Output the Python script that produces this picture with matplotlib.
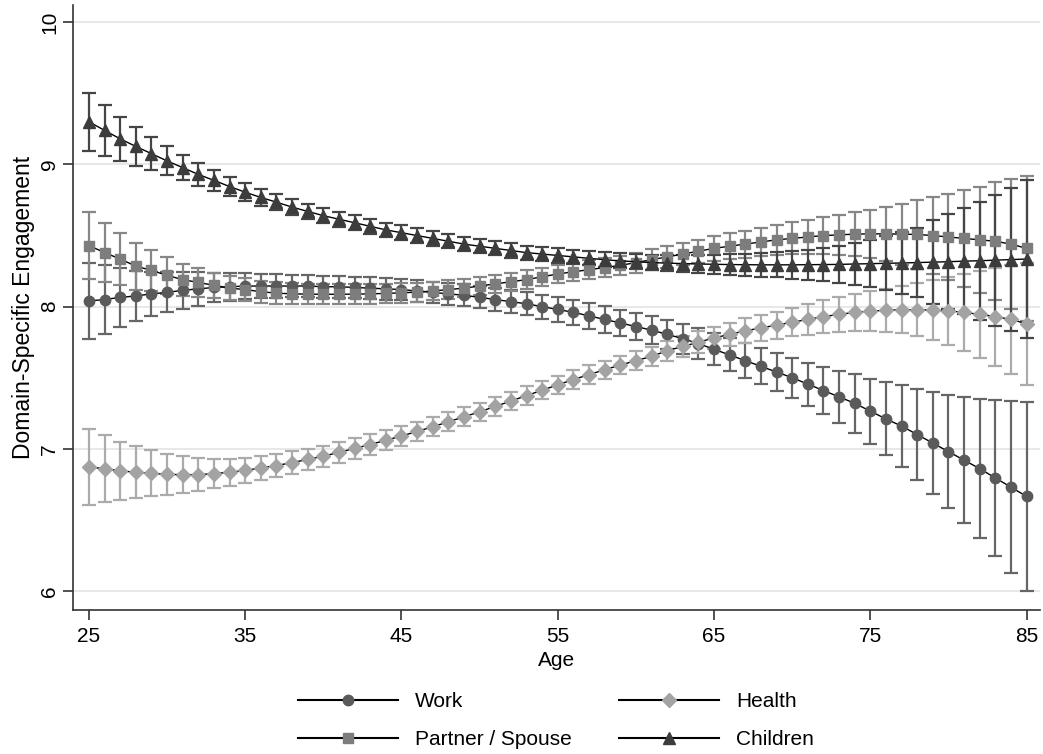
import matplotlib.pyplot as plt
from matplotlib.lines import Line2D

# ages 25..85, one point per year
ages = list(range(25, 86))

work_mean = [8.04, 8.05, 8.065, 8.075, 8.09, 8.10, 8.115, 8.125, 8.135, 8.14,
             8.145, 8.145, 8.145, 8.145, 8.145, 8.14, 8.14, 8.135, 8.13, 8.125,
             8.12, 8.11, 8.10, 8.09, 8.08, 8.065, 8.05, 8.035, 8.02, 8.00,
             7.98, 7.96, 7.935, 7.91, 7.885, 7.86, 7.835, 7.805, 7.775, 7.74,
             7.70, 7.66, 7.62, 7.58, 7.54, 7.50, 7.455, 7.41, 7.365, 7.32,
             7.265, 7.21, 7.16, 7.10, 7.04, 6.98, 6.92, 6.86, 6.795, 6.73,
             6.665]
work_err = [0.27, 0.24, 0.205, 0.178, 0.157, 0.141, 0.13, 0.118, 0.105, 0.097,
            0.09, 0.085, 0.082, 0.08, 0.078, 0.077, 0.076, 0.075, 0.075, 0.075,
            0.075, 0.075, 0.076, 0.077, 0.077, 0.078, 0.079, 0.08, 0.082, 0.084,
            0.086, 0.088, 0.09, 0.092, 0.094, 0.096, 0.099, 0.102, 0.105, 0.108,
            0.112, 0.116, 0.121, 0.127, 0.134, 0.142, 0.152, 0.165, 0.185, 0.208,
            0.229, 0.257, 0.288, 0.322, 0.356, 0.40, 0.442, 0.49, 0.547, 0.605,
            0.667]

health_mean = [6.873, 6.859, 6.845, 6.835, 6.827, 6.82, 6.818, 6.818, 6.825, 6.835,
               6.848, 6.865, 6.882, 6.903, 6.925, 6.948, 6.975, 7.003, 7.03, 7.06,
               7.09, 7.122, 7.155, 7.19, 7.225, 7.26, 7.298, 7.336, 7.374, 7.412,
               7.45, 7.487, 7.522, 7.556, 7.589, 7.62, 7.65, 7.69, 7.72, 7.75,
               7.78, 7.805, 7.83, 7.85, 7.87, 7.89, 7.91, 7.93, 7.945, 7.96,
               7.968, 7.975, 7.978, 7.978, 7.975, 7.97, 7.96, 7.945, 7.93, 7.91,
               7.88]
health_err = [0.268, 0.235, 0.206, 0.182, 0.161, 0.145, 0.128, 0.115, 0.103, 0.095,
              0.088, 0.083, 0.08, 0.078, 0.076, 0.075, 0.073, 0.072, 0.072, 0.071,
              0.07, 0.069, 0.068, 0.067, 0.066, 0.065, 0.065, 0.065, 0.065, 0.065,
              0.065, 0.065, 0.065, 0.065, 0.066, 0.067, 0.069, 0.071, 0.074, 0.077,
              0.08, 0.083, 0.087, 0.091, 0.095, 0.10, 0.107, 0.114, 0.122, 0.13,
              0.14, 0.15, 0.165, 0.185, 0.21, 0.24, 0.27, 0.305, 0.345, 0.385,
              0.43]

partner_mean = [8.43, 8.38, 8.335, 8.285, 8.255, 8.22, 8.19, 8.17, 8.15, 8.13,
                8.12, 8.105, 8.095, 8.09, 8.088, 8.087, 8.087, 8.088, 8.09, 8.093,
                8.097, 8.102, 8.11, 8.12, 8.13, 8.145, 8.16, 8.175, 8.19, 8.21,
                8.23, 8.245, 8.26, 8.275, 8.29, 8.31, 8.33, 8.35, 8.37, 8.39,
                8.41, 8.425, 8.44, 8.455, 8.47, 8.48, 8.49, 8.50, 8.505, 8.51,
                8.512, 8.512, 8.51, 8.508, 8.50, 8.49, 8.48, 8.47, 8.46, 8.44,
                8.41]
partner_err = [0.236, 0.21, 0.186, 0.165, 0.145, 0.128, 0.113, 0.10, 0.09, 0.085,
               0.08, 0.077, 0.075, 0.073, 0.072, 0.071, 0.07, 0.07, 0.069, 0.068,
               0.068, 0.067, 0.066, 0.066, 0.065, 0.065, 0.065, 0.065, 0.065, 0.065,
               0.065, 0.065, 0.066, 0.067, 0.068, 0.07, 0.072, 0.075, 0.078, 0.082,
               0.086, 0.09, 0.095, 0.10, 0.106, 0.113, 0.12, 0.13, 0.142, 0.155,
               0.17, 0.19, 0.215, 0.24, 0.27, 0.305, 0.34, 0.375, 0.415, 0.46,
               0.51]

children_mean = [9.30, 9.24, 9.18, 9.127, 9.076, 9.025, 8.978, 8.93, 8.888, 8.845,
                 8.805, 8.768, 8.735, 8.70, 8.67, 8.64, 8.615, 8.59, 8.565, 8.54,
                 8.52, 8.50, 8.48, 8.46, 8.44, 8.425, 8.41, 8.395, 8.38, 8.37,
                 8.36, 8.35, 8.34, 8.33, 8.322, 8.316, 8.31, 8.306, 8.303, 8.30,
                 8.298, 8.296, 8.295, 8.294, 8.294, 8.294, 8.295, 8.296, 8.297, 8.30,
                 8.302, 8.305, 8.307, 8.31, 8.313, 8.316, 8.32, 8.323, 8.327, 8.331,
                 8.335]
children_err = [0.202, 0.181, 0.156, 0.135, 0.115, 0.102, 0.088, 0.08, 0.074, 0.067,
                0.062, 0.06, 0.058, 0.056, 0.055, 0.054, 0.053, 0.052, 0.052, 0.051,
                0.051, 0.05, 0.05, 0.05, 0.05, 0.05, 0.05, 0.05, 0.05, 0.05,
                0.05, 0.05, 0.05, 0.051, 0.052, 0.053, 0.055, 0.057, 0.06, 0.063,
                0.067, 0.071, 0.076, 0.082, 0.089, 0.097, 0.106, 0.117, 0.13, 0.145,
                0.165, 0.19, 0.215, 0.245, 0.295, 0.335, 0.375, 0.415, 0.46, 0.505,
                0.555]

plt.rcParams['font.family'] = ['Liberation Sans', 'DejaVu Sans']

fig = plt.figure(figsize=(10.43, 7.54), dpi=100)
ax = fig.add_axes([0.07, 0.191, 0.927, 0.802])

# name, means, half CI, marker, marker colour, bar colour, marker size
series = [
    ('Work', work_mean, work_err, 'o', '#5a5a5a', '#666666', 7.5),
    ('Health', health_mean, health_err, 'D', '#a3a3a3', '#ababab', 7),
    ('Partner / Spouse', partner_mean, partner_err, 's', '#7d7d7d', '#878787', 7),
    ('Children', children_mean, children_err, '^', '#3c3c3c', '#454545', 8),
]

handles = {}
for name, m, e, mk, fc, ec, ms in series:
    ax.errorbar(ages, m, yerr=e, fmt='none', ecolor=ec, elinewidth=1.6,
                capsize=4.7, capthick=1.6, zorder=2)
    ax.plot(ages, m, color='black', lw=1.0, marker=mk, ms=ms,
            mfc=fc, mec=fc, zorder=3)
    handles[name] = Line2D([], [], color='black', lw=1.5, marker=mk, ms=ms,
                           mfc=fc, mec=fc)

ax.set_xlim(23.98, 85.85)
ax.set_ylim(5.866, 10.12)
ax.set_xticks([25, 35, 45, 55, 65, 75, 85])
ax.set_yticks([6, 7, 8, 9, 10])
ax.yaxis.grid(True, color='#e8e8e8', lw=1.4)
ax.set_axisbelow(True)

for s in ['top', 'right']:
    ax.spines[s].set_visible(False)
for s in ['left', 'bottom']:
    ax.spines[s].set_color('#333333')
    ax.spines[s].set_linewidth(1.2)
ax.tick_params(length=7, width=1.2, color='#333333', labelsize=15, pad=3)
ax.tick_params(axis='x', pad=5)
ax.tick_params(axis='y', labelrotation=90)
for lab in ax.get_yticklabels():
    lab.set_va('center')

ax.set_xlabel('Age', fontsize=15, labelpad=4)
ax.set_ylabel('Domain-Specific Engagement', fontsize=16.5, labelpad=4)

order = ['Work', 'Partner / Spouse', 'Health', 'Children']
fig.legend([handles[k] for k in order], order, ncol=2, loc='upper center',
           bbox_to_anchor=(0.533, 0.0955), frameon=False, borderpad=0,
           handlelength=4.8, handletextpad=0.8, columnspacing=2.3,
           labelspacing=0.9, fontsize=15)

fig.savefig('out.png', dpi=100)
